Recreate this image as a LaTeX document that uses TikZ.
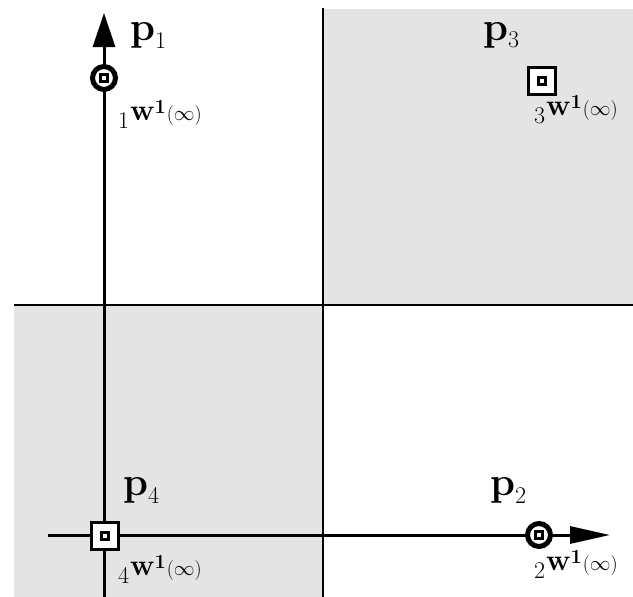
\documentclass[tikz,border=0pt]{standalone}
\usetikzlibrary{arrows.meta}
\definecolor{bggray}{HTML}{E4E4E4}
\newcommand{\plabel}[1]{{\fontsize{40}{42}\selectfont\bfseries p}\raisebox{-8pt}{\fontsize{24}{26}\selectfont #1}}
\newcommand{\wlabel}[1]{\raisebox{-8pt}{\fontsize{24}{26}\selectfont #1}\kern1pt{\fontsize{30}{32}\selectfont\bfseries w}\raisebox{7pt}{\fontsize{20}{22}\selectfont\bfseries 1}\kern1pt{\fontsize{20}{22}\selectfont($\infty$)}}
\begin{document}
\begin{tikzpicture}[x=1pt,y=-1pt,
  axis/.style={line width=3pt},
  quad/.style={line width=2pt},
  uptip/.style={-{Triangle[length=34pt,width=22pt]}},
  rtip/.style={-{Triangle[length=40pt,width=17pt]}},
  circmark/.style={circle,draw,line width=5pt,fill=white,minimum size=23pt,inner sep=0pt},
  sqmark/.style={rectangle,draw,line width=3.5pt,fill=white,minimum size=27pt,inner sep=0pt},
  dot/.style={rectangle,draw,line width=2.5pt,fill=white,minimum size=7pt,inner sep=0pt},
  lab/.style={inner sep=0pt,anchor=base west}]
\useasboundingbox (0,0) rectangle (633,597);
\fill[bggray] (323,9) rectangle (633,305);
\fill[bggray] (14,305) rectangle (323,597);
% quadrant lines
\coordinate (vt) at (323,8);
\coordinate (vb) at (323,597);
\coordinate (hl) at (14,305);
\coordinate (hr) at (633,305);
\draw[quad] (vt) -- (vb);
\draw[quad] (hl) -- (hr);
% axes
\coordinate (yb) at (104,597);
\coordinate (yt) at (104,13);
\coordinate (xl) at (48,535);
\coordinate (xr) at (610,535);
\draw[axis] (yb) -- (104,60);
\draw[axis,uptip] (104,60) -- (yt);
\draw[axis] (xl) -- (560,535);
\draw[axis,rtip] (560,535) -- (xr);
% markers
\node[circmark] (m1) at (104,78) {};
\node[dot] at (m1) {};
\node[circmark] (m2) at (539,535) {};
\node[dot] at (m2) {};
\node[sqmark] (m3) at (542,81) {};
\node[dot] at (m3) {};
\node[sqmark] (m4) at (105,536) {};
\node[dot] at (m4) {};
% labels
\node[lab] (p1) at (130,41) {\plabel{1}};
\node[lab] (p3) at (483,40) {\plabel{3}};
\node[lab] (p4) at (123,495) {\plabel{4}};
\node[lab] (p2) at (490,495) {\plabel{2}};
\node[lab] (w1) at (118,120) {\wlabel{1}};
\node[lab] (w3) at (534,115) {\wlabel{3}};
\node[lab] (w4) at (118,575) {\wlabel{4}};
\node[lab] (w2) at (534,570) {\wlabel{2}};
\end{tikzpicture}
\end{document}
